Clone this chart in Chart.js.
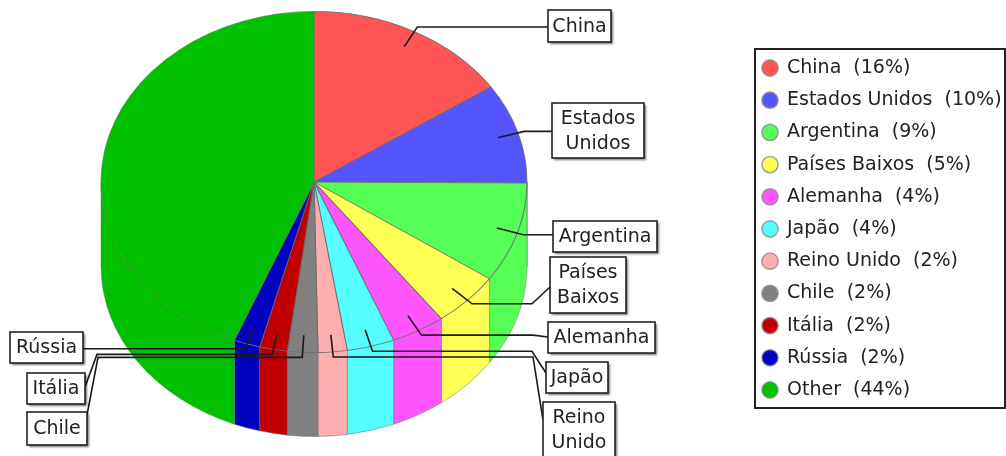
<!DOCTYPE html>
<html lang="pt">
<head>
<meta charset="UTF-8">
<title>Pie</title>
<script src="https://cdn.jsdelivr.net/npm/chart.js@4/dist/chart.umd.js"></script>
<style>
    html, body { margin: 0; background: #fff; overflow: hidden; }
    #wrap { position: relative; width: 1006px; height: 456px; }
</style>
</head>
<body>
<div id="wrap"><canvas id="myChart"></canvas></div>
<script>
    const categories = ["China", "Estados Unidos", "Argentina", "Países Baixos", "Alemanha", "Japão", "Reino Unido", "Chile", "Itália", "Rússia", "Other"];
    // slice sizes
    const sliceValues = [15.6, 9.5, 9.5, 5.2, 4.1, 3.6, 2.2, 2.3, 2.1, 2.0, 43.9];
    // rounded numbers printed in the legend
    const legendPercents = [16, 10, 9, 5, 4, 4, 2, 2, 2, 2, 44];
    const sliceColors = ["#ff5555", "#5555ff", "#55ff55", "#ffff55", "#ff55ff", "#55ffff", "#ffafaf", "#808080", "#c00000", "#0000c0", "#00c000"];

    const FONT = '"DejaVu Sans", sans-serif';
    const EDGE = "rgba(105,105,105,0.85)";
    const FONT_SIZE = 19;

    // the flattened pie on the page
    const pie = { cx: 314, cy: 182, rx: 213, ry: 170.5, depth: 84 };

    // label boxes, same order as categories. sx = where the leader leaves the horizontal, ay = where it hits the box
    const callouts = [
        { lines: ["China"], x: 548, y: 10, w: 63, h: 32, sx: null, ax: 548, ay: 26 },
        { lines: ["Estados", "Unidos"], x: 552, y: 103, w: 92, h: 55, sx: null, ax: 552, ay: 132 },
        { lines: ["Argentina"], x: 553, y: 221, w: 104, h: 31, sx: null, ax: 553, ay: 235 },
        { lines: ["Países", "Baixos"], x: 550, y: 257, w: 76, h: 56, sx: 532, ax: 550, ay: 287 },
        { lines: ["Alemanha"], x: 548, y: 322, w: 107, h: 31, sx: 533, ax: 548, ay: 337 },
        { lines: ["Japão"], x: 546, y: 362, w: 62, h: 31, sx: 532, ax: 546, ay: 373 },
        { lines: ["Reino", "Unido"], x: 543, y: 402, w: 72, h: 56, sx: 533, ax: 543, ay: 420 },
        { lines: ["Chile"], x: 27, y: 412, w: 60, h: 33, sx: 98, ax: 87, ay: 415 },
        { lines: ["Itália"], x: 27, y: 373, w: 58, h: 31, sx: 97, ax: 85, ay: 387 },
        { lines: ["Rússia"], x: 10, y: 332, w: 73, h: 31, sx: null, ax: 83, ay: 348 }
    ];

    function midPoint(arc, f) {
        const mid = (arc.startAngle + arc.endAngle) / 2;
        return { x: pie.cx + Math.cos(mid) * pie.rx * f, y: pie.cy + Math.sin(mid) * pie.ry * f };
    }

    const pie3d = {
        id: "pie3d",
        afterLayout(chart) {
            // move the legend into its own box on the right
            const lg = chart.legend;
            const w = lg.width, h = lg.height;
            lg.left = 762.5 - lg.options.labels.padding;
            lg.right = lg.left + w;
            lg.top = 68 - FONT_SIZE / 2 - lg.options.labels.padding;
            lg.bottom = lg.top + h;
        },
        beforeDraw(chart) {
            const ctx = chart.ctx;
            ctx.save();
            ctx.fillStyle = "#fff";
            ctx.strokeStyle = "#222";
            ctx.lineWidth = 2;
            ctx.fillRect(755, 49, 250, 359);
            ctx.strokeRect(755, 49, 250, 359);
            ctx.restore();
        },
        beforeDatasetsDraw(chart) {
            const ctx = chart.ctx;
            const arcs = chart.getDatasetMeta(0).data;
            // side wall first, only the part of each slice that faces us
            arcs.forEach(function (arc, i) {
                const a = Math.max(arc.startAngle, 0);
                const b = Math.min(arc.endAngle, Math.PI);
                if (b <= a) return;
                ctx.save();
                ctx.beginPath();
                ctx.ellipse(pie.cx, pie.cy, pie.rx, pie.ry, 0, a, b);
                ctx.ellipse(pie.cx, pie.cy + pie.depth, pie.rx, pie.ry, 0, b, a, true);
                ctx.closePath();
                ctx.fillStyle = sliceColors[i];
                ctx.fill();
                ctx.strokeStyle = i === sliceColors.length - 1 ? "rgba(60,150,60,0.6)" : "rgba(105,105,105,0.6)";
                ctx.lineWidth = 0.8;
                ctx.stroke();
                ctx.restore();
            });
            // squash the circle from the library into the top ellipse
            const first = arcs[0];
            ctx.save();
            ctx.translate(pie.cx, pie.cy);
            ctx.scale(pie.rx / first.outerRadius, pie.ry / first.outerRadius);
            ctx.translate(-first.x, -first.y);
        },
        afterDatasetsDraw(chart) {
            chart.ctx.restore();
        },
        afterDraw(chart) {
            const ctx = chart.ctx;
            const arcs = chart.getDatasetMeta(0).data;
            ctx.save();
            // leader lines
            callouts.forEach(function (c, i) {
                const p0 = midPoint(arcs[i], 0.9);
                const p1 = midPoint(arcs[i], 1.03);
                ctx.beginPath();
                ctx.moveTo(p0.x, p0.y);
                ctx.lineTo(p1.x, p1.y);
                if (c.sx !== null) ctx.lineTo(c.sx, p1.y);
                else ctx.lineTo(c.ax, p1.y);
                ctx.lineTo(c.ax, c.sx !== null ? c.ay : p1.y);
                ctx.strokeStyle = "#1a1a1a";
                ctx.lineWidth = 1.6;
                ctx.stroke();
            });
            // label boxes
            ctx.font = FONT_SIZE + "px " + FONT;
            ctx.textAlign = "center";
            ctx.textBaseline = "middle";
            callouts.forEach(function (c) {
                ctx.save();
                ctx.shadowColor = "rgba(0,0,0,0.55)";
                ctx.shadowOffsetX = 2;
                ctx.shadowOffsetY = 2;
                ctx.shadowBlur = 2;
                ctx.fillStyle = "#fff";
                ctx.fillRect(c.x, c.y, c.w, c.h);
                ctx.restore();
                ctx.strokeStyle = "#222";
                ctx.lineWidth = 1.6;
                ctx.strokeRect(c.x, c.y, c.w, c.h);
                ctx.fillStyle = "#222";
                c.lines.forEach(function (t, k) {
                    const y = c.y + c.h / 2 + 1 + (k - (c.lines.length - 1) / 2) * 25;
                    ctx.fillText(t, c.x + c.w / 2, y);
                });
            });
            ctx.restore();
        }
    };

    new Chart(document.getElementById("myChart"), {
        type: "pie",
        data: {
            labels: categories,
            datasets: [{
                data: sliceValues,
                backgroundColor: sliceColors,
                borderColor: sliceColors.map(function (c, i) {
                    return i === sliceColors.length - 1 ? "rgba(60,150,60,0.7)" : EDGE;
                }),
                borderWidth: 1.1
            }]
        },
        options: {
            responsive: true,
            maintainAspectRatio: false,
            animation: false,
            plugins: {
                tooltip: { enabled: false },
                legend: {
                    position: "right",
                    align: "start",
                    labels: {
                        usePointStyle: true,
                        boxWidth: 15,
                        boxHeight: 11.5,
                        padding: 13.2,
                        color: "#222",
                        font: { size: FONT_SIZE, family: FONT },
                        generateLabels: function (chart) {
                            const items = Chart.overrides.pie.plugins.legend.labels.generateLabels(chart);
                            items.forEach(function (it, i) {
                                it.text = categories[i] + "  (" + legendPercents[i] + "%)";
                                it.lineWidth = 1.5;
                                it.strokeStyle = "rgba(140,140,140,0.8)";
                            });
                            return items;
                        }
                    }
                }
            }
        },
        plugins: [pie3d]
    });
</script>
</body>
</html>
